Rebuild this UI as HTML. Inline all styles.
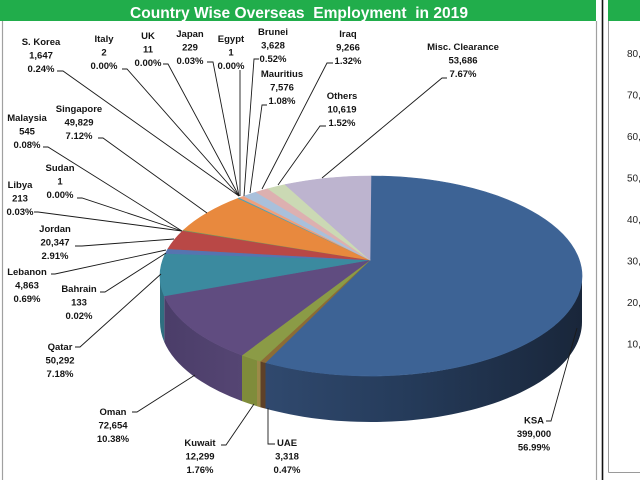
<!DOCTYPE html>
<html>
<head>
<meta charset="utf-8">
<style>
  html,body{margin:0;padding:0;background:#fff;}
  body{width:640px;height:480px;overflow:hidden;}
  svg{display:block;}
  .lb{font-family:"Liberation Sans",Arial,sans-serif;font-weight:bold;font-size:9.5px;fill:#141414;}
  .ax{font-family:"Liberation Sans",Arial,sans-serif;font-size:10px;fill:#222;}
</style>
</head>
<body>
<svg width="640" height="480" viewBox="0 0 640 480" xmlns="http://www.w3.org/2000/svg">
  <defs>
    <linearGradient id="ksaSide" gradientUnits="userSpaceOnUse" x1="265" y1="0" x2="582" y2="0">
      <stop offset="0" stop-color="#30496e"/>
      <stop offset="0.45" stop-color="#253b5a"/>
      <stop offset="1" stop-color="#19263a"/>
    </linearGradient>
    <linearGradient id="omanSide" gradientUnits="userSpaceOnUse" x1="160" y1="0" x2="242" y2="0">
      <stop offset="0" stop-color="#4a3d68"/>
      <stop offset="1" stop-color="#554573"/>
    </linearGradient>
  </defs>

  <rect x="0" y="0" width="640" height="480" fill="#fff"/>

  <!-- header bars -->
  <rect x="0" y="0" width="596" height="21" fill="#21ad4b"/>
  <rect x="608" y="0" width="32" height="21" fill="#21ad4b"/>
  <text x="130" y="18" textLength="338" lengthAdjust="spacingAndGlyphs" style="white-space:pre" font-family="Liberation Sans, Arial, sans-serif" font-weight="bold" font-size="15.5" fill="#fff">Country Wise Overseas  Employment  in 2019</text>

  <!-- borders -->
  <line x1="2.5" y1="21" x2="2.5" y2="480" stroke="#a0a0a0" stroke-width="1.2"/>
  <line x1="596.5" y1="21" x2="596.5" y2="480" stroke="#a0a0a0" stroke-width="1.2"/>
  <line x1="602.5" y1="0" x2="602.5" y2="480" stroke="#111" stroke-width="1.6"/>
  <line x1="608.5" y1="21" x2="608.5" y2="472.5" stroke="#9a9a9a" stroke-width="1"/>
  <line x1="608.5" y1="472.5" x2="640" y2="472.5" stroke="#9a9a9a" stroke-width="1"/>

  <!-- right panel axis labels -->
  <text class="ax" x="627" y="57">80,</text>
  <text class="ax" x="627" y="98.5">70,</text>
  <text class="ax" x="627" y="140">60,</text>
  <text class="ax" x="627" y="181.5">50,</text>
  <text class="ax" x="627" y="223">40,</text>
  <text class="ax" x="627" y="264.5">30,</text>
  <text class="ax" x="627" y="306">20,</text>
  <text class="ax" x="627" y="347.5">10,</text>

  <!-- pie sides -->
  <path d="M582,276 A211,100 0 0 1 265.5,362.6 L265.5,408.6 A211,100 0 0 0 582,322 Z" fill="url(#ksaSide)"/>
  <path d="M265.5,362.6 A211,100 0 0 1 260.4,361.2 L260.4,407.2 A211,100 0 0 0 265.5,408.6 Z" fill="#5e4128"/>
  <path d="M260.4,361.2 A211,100 0 0 1 242,355.1 L242,401.1 A211,100 0 0 0 260.4,407.2 Z" fill="#7f8c3b"/>
  <path d="M257,360 L260.4,361.2 L260.4,407.2 L257,406 Z" fill="#9c8a48"/>
  <path d="M242,355.1 A211,100 0 0 1 164.2,295.9 L164.2,341.9 A211,100 0 0 0 242,401.1 Z" fill="url(#omanSide)"/>
  <path d="M164.2,295.9 A211,100 0 0 1 160,276 L160,322 A211,100 0 0 0 164.2,341.9 Z" fill="#2f6f80"/>

  <!-- pie top -->
  <g stroke-width="0.6" stroke-linejoin="round">
    <path d="M370,260 L371,176 A211,100 0 1 1 265.5,362.6 Z" fill="#3d6395" stroke="#3d6395"/>
    <path d="M370,260 L265.5,362.6 A211,100 0 0 1 260.4,361.2 Z" fill="#8c6c36" stroke="#8c6c36"/>
    <path d="M370,260 L260.4,361.2 A211,100 0 0 1 242,355.1 Z" fill="#8b9b46" stroke="#8b9b46"/>
    <path d="M370,260 L242,355.1 A211,100 0 0 1 164.2,295.9 Z" fill="#604c80" stroke="#604c80"/>
    <path d="M370,260 L164.2,295.9 A211,100 0 0 1 165.4,253.5 Z" fill="#3b8a9f" stroke="#3b8a9f"/>
    <path d="M370,260 L165.4,253.5 A211,100 0 0 1 168,248.8 Z" fill="#5674b0" stroke="#5674b0"/>
    <path d="M370,260 L168,248.8 A211,100 0 0 1 183,230.6 Z" fill="#b94846" stroke="#b94846"/>
    <path d="M370,260 L183,230.6 A211,100 0 0 1 183.6,230 Z" fill="#6f9a5e" stroke="#6f9a5e"/>
    <path d="M370,260 L183.6,230 A211,100 0 0 1 238.2,198.3 Z" fill="#e8893e" stroke="#e8893e"/>
    <path d="M370,260 L238.2,198.3 A211,100 0 0 1 239.6,197.7 Z" fill="#4ba3b8" stroke="#4ba3b8"/>
    <path d="M370,260 L239.6,197.7 A211,100 0 0 1 244,196.1 Z" fill="#f0a07c" stroke="#f0a07c"/>
    <path d="M370,260 L244,196.1 A211,100 0 0 1 256.1,192.1 Z" fill="#a9c0db" stroke="#a9c0db"/>
    <path d="M370,260 L256.1,192.1 A211,100 0 0 1 268.1,188.7 Z" fill="#ddb0b0" stroke="#ddb0b0"/>
    <path d="M370,260 L268.1,188.7 A211,100 0 0 1 285.2,184.6 Z" fill="#cbd9b4" stroke="#cbd9b4"/>
    <path d="M370,260 L285.2,184.6 A211,100 0 0 1 371,176 Z" fill="#bdb4cf" stroke="#bdb4cf"/>
  </g>

  <!-- leader lines -->
  <g fill="none" stroke="#1a1a1a" stroke-width="0.9">
    <polyline points="57,71 63,71 239,196"/>
    <polyline points="122,69 127,69 239,196"/>
    <polyline points="163,64 168,64 239,196"/>
    <polyline points="207,62 213,62 239,196"/>
    <polyline points="240,70 240,196"/>
    <polyline points="259,59 254,59 244,196"/>
    <polyline points="267,105 262,105 250,193"/>
    <polyline points="333,63 327,63 262,189"/>
    <polyline points="326,126 320,126 278,185"/>
    <polyline points="447,78 442,78 322,178"/>
    <polyline points="43,147 48,147 182,231"/>
    <polyline points="98,138 103,138 207,213"/>
    <polyline points="77,198 82,198 182,231"/>
    <polyline points="34,212 38,212 182,231"/>
    <polyline points="75,246 82,246 174,239"/>
    <polyline points="51,274 55,274 166,250"/>
    <polyline points="100,292 105,292 166,253"/>
    <polyline points="75,347 80,347 161,274"/>
    <polyline points="132,412 137,412 195,375"/>
    <polyline points="221,445 226,445 254,404"/>
    <polyline points="275,444 268,444 268,408"/>
    <polyline points="546,421 551,421 577,328"/>
  </g>

  <!-- labels -->
  <g class="lb" text-anchor="middle">
    <text x="41" y="45"><tspan x="41">S. Korea</tspan><tspan x="41" dy="13.5">1,647</tspan><tspan x="41" dy="13.5">0.24%</tspan></text>
    <text x="104" y="42"><tspan x="104">Italy</tspan><tspan x="104" dy="13.5">2</tspan><tspan x="104" dy="13.5">0.00%</tspan></text>
    <text x="148" y="39"><tspan x="148">UK</tspan><tspan x="148" dy="13.5">11</tspan><tspan x="148" dy="13.5">0.00%</tspan></text>
    <text x="190" y="37"><tspan x="190">Japan</tspan><tspan x="190" dy="13.5">229</tspan><tspan x="190" dy="13.5">0.03%</tspan></text>
    <text x="231" y="42"><tspan x="231">Egypt</tspan><tspan x="231" dy="13.5">1</tspan><tspan x="231" dy="13.5">0.00%</tspan></text>
    <text x="273" y="35"><tspan x="273">Brunei</tspan><tspan x="273" dy="13.5">3,628</tspan><tspan x="273" dy="13.5">0.52%</tspan></text>
    <text x="282" y="77"><tspan x="282">Mauritius</tspan><tspan x="282" dy="13.5">7,576</tspan><tspan x="282" dy="13.5">1.08%</tspan></text>
    <text x="348" y="37"><tspan x="348">Iraq</tspan><tspan x="348" dy="13.5">9,266</tspan><tspan x="348" dy="13.5">1.32%</tspan></text>
    <text x="342" y="99"><tspan x="342">Others</tspan><tspan x="342" dy="13.5">10,619</tspan><tspan x="342" dy="13.5">1.52%</tspan></text>
    <text x="463" y="50"><tspan x="463">Misc. Clearance</tspan><tspan x="463" dy="13.5">53,686</tspan><tspan x="463" dy="13.5">7.67%</tspan></text>
    <text x="27" y="121"><tspan x="27">Malaysia</tspan><tspan x="27" dy="13.5">545</tspan><tspan x="27" dy="13.5">0.08%</tspan></text>
    <text x="79" y="112"><tspan x="79">Singapore</tspan><tspan x="79" dy="13.5">49,829</tspan><tspan x="79" dy="13.5">7.12%</tspan></text>
    <text x="60" y="171"><tspan x="60">Sudan</tspan><tspan x="60" dy="13.5">1</tspan><tspan x="60" dy="13.5">0.00%</tspan></text>
    <text x="20" y="188"><tspan x="20">Libya</tspan><tspan x="20" dy="13.5">213</tspan><tspan x="20" dy="13.5">0.03%</tspan></text>
    <text x="55" y="232"><tspan x="55">Jordan</tspan><tspan x="55" dy="13.5">20,347</tspan><tspan x="55" dy="13.5">2.91%</tspan></text>
    <text x="27" y="275"><tspan x="27">Lebanon</tspan><tspan x="27" dy="13.5">4,863</tspan><tspan x="27" dy="13.5">0.69%</tspan></text>
    <text x="79" y="292"><tspan x="79">Bahrain</tspan><tspan x="79" dy="13.5">133</tspan><tspan x="79" dy="13.5">0.02%</tspan></text>
    <text x="60" y="350"><tspan x="60">Qatar</tspan><tspan x="60" dy="13.5">50,292</tspan><tspan x="60" dy="13.5">7.18%</tspan></text>
    <text x="113" y="415"><tspan x="113">Oman</tspan><tspan x="113" dy="13.5">72,654</tspan><tspan x="113" dy="13.5">10.38%</tspan></text>
    <text x="200" y="446"><tspan x="200">Kuwait</tspan><tspan x="200" dy="13.5">12,299</tspan><tspan x="200" dy="13.5">1.76%</tspan></text>
    <text x="287" y="446"><tspan x="287">UAE</tspan><tspan x="287" dy="13.5">3,318</tspan><tspan x="287" dy="13.5">0.47%</tspan></text>
    <text x="534" y="423.5"><tspan x="534">KSA</tspan><tspan x="534" dy="13.5">399,000</tspan><tspan x="534" dy="13.5">56.99%</tspan></text>
  </g>
</svg>
</body>
</html>
